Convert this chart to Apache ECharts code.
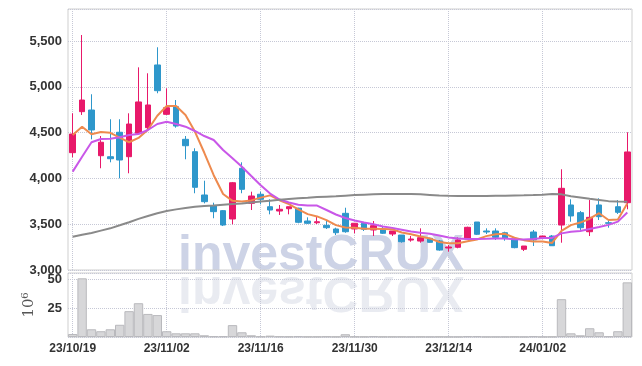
<!DOCTYPE html>
<html>
<head>
<meta charset="utf-8">
<script src="https://cdn.jsdelivr.net/npm/echarts@6.0.0/dist/echarts.min.js"></script>
<style>
html, body { margin: 0; padding: 0; background: #fff; }
#chart { width: 642px; height: 366px; }
</style>
</head>
<body>
<div id="chart"></div>
<script>
// trading days 23/10/19 ~ 24/01/15
var dates = ['23/10/19','23/10/20','23/10/23','23/10/24','23/10/25','23/10/26','23/10/27','23/10/30','23/10/31',
    '23/11/01','23/11/02','23/11/03','23/11/06','23/11/07','23/11/08','23/11/09','23/11/10','23/11/13','23/11/14',
    '23/11/15','23/11/16','23/11/17','23/11/20','23/11/21','23/11/22','23/11/23','23/11/24','23/11/27','23/11/28',
    '23/11/29','23/11/30','23/12/01','23/12/04','23/12/05','23/12/06','23/12/07','23/12/08','23/12/11','23/12/12',
    '23/12/13','23/12/14','23/12/15','23/12/18','23/12/19','23/12/20','23/12/21','23/12/22','23/12/26','23/12/27',
    '23/12/28','24/01/02','24/01/03','24/01/04','24/01/05','24/01/08','24/01/09','24/01/10','24/01/11','24/01/12',
    '24/01/15'];

var opens  = [4281,4729,4747,4248,4237,4504,4237,4493,4554,5239,4700,4783,4427,4292,3819,3702,3648,3557,4111,3728,
              3827,3691,3644,3669,3675,3535,3516,3488,3448,3619,3448,3510,3437,3448,3393,3382,3327,3316,3346,3317,
              3240,3248,3339,3524,3426,3426,3407,3339,3226,3415,3346,3371,3491,3710,3626,3418,3710,3516,3691,3735];
var closes = [4485,4856,4529,4395,4215,4201,4594,4835,4802,4958,4772,4572,4357,3903,3746,3637,3491,3953,3881,3808,
              3772,3655,3663,3691,3521,3510,3527,3462,3407,3418,3510,3444,3484,3401,3426,3309,3338,3353,3302,3218,
              3251,3328,3466,3390,3415,3357,3346,3244,3262,3328,3371,3265,3892,3590,3462,3575,3582,3510,3630,4289];
var lows   = [4231,4693,4427,4111,4176,4001,4056,4474,4529,4930,4693,4554,4209,3838,3728,3565,3480,3499,3838,3655,
              3717,3608,3601,3608,3510,3502,3502,3448,3382,3407,3401,3426,3371,3393,3371,3298,3309,3298,3298,3211,
              3200,3237,3335,3382,3393,3328,3320,3237,3207,3262,3342,3265,3298,3527,3437,3371,3546,3462,3612,3663];
var highs  = [4711,5566,4919,4463,4646,4646,4711,5213,5148,5432,4984,4856,4463,4329,3975,3735,3655,3961,4176,3855,
              3855,3772,3710,3691,3680,3575,3582,3535,3462,3680,3510,3517,3535,3473,3426,3382,3371,3455,3353,3327,
              3273,3357,3473,3524,3455,3455,3418,3357,3262,3437,3371,3382,4100,3772,3644,3764,3783,3546,3764,4504];

// moving averages as drawn (5 / 10 / 60 days)
var ma5  = [4474,4565,4482,4507,4498,4445,4395,4442,4532,4685,4790,4790,4693,4512,4280,4035,3830,3755,3748,3760,
            3790,3815,3762,3720,3663,3610,3585,3545,3490,3465,3462,3450,3450,3448,3445,3410,3390,3365,3345,3306,
            3293,3292,3313,3333,3370,3390,3395,3352,3326,3310,3311,3296,3428,3490,3518,3560,3620,3546,3552,3725];
var ma10 = [4074,4237,4395,4431,4434,4449,4474,4485,4529,4594,4619,4594,4565,4518,4463,4420,4310,4220,4128,4026,
            3925,3835,3770,3737,3712,3703,3703,3655,3606,3568,3540,3518,3500,3475,3460,3440,3420,3406,3396,3376,
            3355,3343,3339,3338,3340,3344,3344,3336,3332,3338,3349,3350,3400,3418,3425,3448,3470,3493,3528,3627];
var ma60 = [3364,3385,3405,3430,3455,3488,3522,3558,3590,3620,3645,3662,3678,3690,3698,3705,3713,3720,3727,3737,
            3747,3757,3766,3775,3783,3789,3796,3801,3806,3812,3818,3823,3826,3829,3831,3831,3830,3826,3820,3813,
            3810,3808,3807,3808,3809,3810,3811,3813,3815,3818,3823,3830,3826,3805,3792,3777,3765,3752,3748,3745];

// volume, 10^6 shares
var volumes = [2.6,50.9,6.7,5,6.7,10.6,22.4,29.3,20,19,5,3.2,3.2,3.2,1.5,0.6,0.6,10.3,4.1,1.5,
               0.5,1.2,0.5,0.4,0.6,0.3,0.3,0.5,0.3,2.4,0.4,0.3,0.6,0.3,0.3,0.3,0.2,0.3,0.2,0.3,
               0.2,0.2,0.6,0.6,0.2,0.2,0.2,0.3,0.2,0.6,0.2,0.3,32.8,3.2,1.5,7.6,4.1,0.6,5,47.4];

var upColor = '#e8196a';
var downColor = '#2e97cb';
var labelFont = "'Liberation Sans', Arial, sans-serif";
var markFont = 'bold 50px "Liberation Sans", Arial, sans-serif';
var gridLine = { type: 'dotted', color: '#c6c8d6', width: 1 };

var candles = [];
for (var i = 0; i < dates.length; i++) {
    candles.push([opens[i], closes[i], lows[i], highs[i]]);
}

var chart = echarts.init(document.getElementById('chart'));
var option = {
    animation: false,
    backgroundColor: '#fff',
    grid: [
        { left: 68, right: 10, top: 9, height: 261, show: true, borderColor: '#cfcfcf', borderWidth: 1 },
        { left: 68, right: 10, top: 273, height: 64, show: true, borderColor: '#cfcfcf', borderWidth: 1 }
    ],
    xAxis: [
        {
            type: 'category', gridIndex: 0, data: dates,
            axisLine: { show: false }, axisTick: { show: false }, axisLabel: { show: false },
            splitLine: { show: true, interval: 9, alignWithLabel: true, lineStyle: gridLine }
        },
        {
            type: 'category', gridIndex: 1, data: dates,
            axisLine: { show: false }, axisTick: { show: false },
            axisLabel: { interval: 9, margin: 6, color: '#333', fontFamily: labelFont, fontWeight: 'bold', fontSize: 12 },
            splitLine: { show: true, interval: 9, alignWithLabel: true, lineStyle: gridLine }
        }
    ],
    yAxis: [
        {
            type: 'value', gridIndex: 0, min: 3000, max: 5850, interval: 500,
            axisLine: { show: false }, axisTick: { show: false },
            axisLabel: { showMaxLabel: false, margin: 6, color: '#333', fontFamily: labelFont, fontWeight: 'bold', fontSize: 13 },
            splitLine: { lineStyle: gridLine }
        },
        {
            type: 'value', gridIndex: 1, min: 0, max: 55.5, interval: 25,
            name: '10\u2076', nameLocation: 'middle', nameRotate: 90, nameGap: 22,
            nameTextStyle: { fontFamily: "'DejaVu Serif', serif", fontSize: 15, color: '#555' },
            axisLine: { show: false }, axisTick: { show: false },
            axisLabel: { showMinLabel: false, showMaxLabel: false, margin: 6, color: '#333', fontFamily: labelFont, fontWeight: 'bold', fontSize: 13 },
            splitLine: { lineStyle: gridLine }
        }
    ],
    graphic: [
        {
            type: 'text', x: 178, y: 281, z: -10, silent: true,
            style: { text: 'investCRUX', font: markFont, fill: '#cdd3e6', verticalAlign: 'bottom' }
        },
        {
            // mirrored copy under the baseline
            type: 'text', x: 178, y: 266, scaleY: -1, z: -10, silent: true,
            style: { text: 'investCRUX', font: markFont, fill: '#e4e6ee', opacity: 0.8, verticalAlign: 'bottom' }
        }
    ],
    series: [
        {
            name: 'price', type: 'candlestick', xAxisIndex: 0, yAxisIndex: 0,
            data: candles, barWidth: 6,
            itemStyle: { color: upColor, color0: downColor, borderColor: upColor, borderColor0: downColor, borderWidth: 1 }
        },
        {
            name: 'MA5', type: 'line', xAxisIndex: 0, yAxisIndex: 0, data: ma5,
            symbol: 'none', lineStyle: { color: '#ee8a4e', width: 2 }
        },
        {
            name: 'MA10', type: 'line', xAxisIndex: 0, yAxisIndex: 0, data: ma10,
            symbol: 'none', lineStyle: { color: '#c957e8', width: 2 }
        },
        {
            name: 'MA60', type: 'line', xAxisIndex: 0, yAxisIndex: 0, data: ma60,
            symbol: 'none', lineStyle: { color: '#8a8a8a', width: 2 }
        },
        {
            name: 'volume', type: 'bar', xAxisIndex: 1, yAxisIndex: 1, data: volumes,
            barCategoryGap: '0%',
            itemStyle: { color: '#d7d7d9', borderColor: '#b9b9bd', borderWidth: 1 }
        }
    ]
};
chart.setOption(option);
</script>
</body>
</html>
